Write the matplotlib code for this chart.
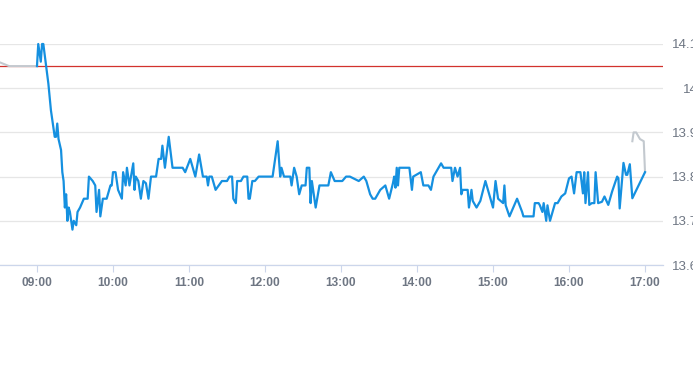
import pandas as pd
import matplotlib
matplotlib.use('Agg')
import matplotlib.pyplot as plt
import matplotlib.dates as mdates

# intraday price, regular session
times = ['09:00', '09:01', '09:03', '09:04', '09:05', '09:09', '09:11', '09:13', '09:14', '09:15',
         '09:16', '09:17', '09:19', '09:20', '09:21', '09:22', '09:23', '09:24', '09:25', '09:26',
         '09:27', '09:28', '09:29', '09:31', '09:32', '09:34', '09:37', '09:40', '09:41', '09:44',
         '09:46', '09:47', '09:49', '09:50', '09:52', '09:55', '09:58', '09:59', '10:00', '10:02',
         '10:04', '10:07', '10:08', '10:10', '10:11', '10:13', '10:16', '10:17', '10:18', '10:20',
         '10:22', '10:24', '10:26', '10:28', '10:30', '10:34', '10:36', '10:38', '10:39', '10:41',
         '10:44', '10:47', '10:55', '10:57', '11:01', '11:05', '11:08', '11:11', '11:14', '11:15',
         '11:16', '11:18', '11:21', '11:26', '11:30', '11:32', '11:34', '11:35', '11:37', '11:38',
         '11:41', '11:43', '11:46', '11:47', '11:48', '11:50', '11:52', '11:55', '12:06', '12:10',
         '12:12', '12:13', '12:15', '12:17', '12:20', '12:21', '12:23', '12:25', '12:27', '12:29',
         '12:32', '12:33', '12:35', '12:36', '12:37', '12:40', '12:43', '12:45', '12:50', '12:52',
         '12:55', '13:01', '13:04', '13:07', '13:14', '13:18', '13:20', '13:23', '13:25', '13:27',
         '13:31', '13:35', '13:38', '13:41', '13:42', '13:43', '13:44', '13:45', '13:46', '13:54',
         '13:56', '13:57', '14:03', '14:05', '14:09', '14:11', '14:13', '14:19', '14:21', '14:27',
         '14:28', '14:30', '14:32', '14:34', '14:35', '14:36', '14:38', '14:40', '14:41', '14:43',
         '14:44', '14:47', '14:50', '14:54', '15:00', '15:02', '15:04', '15:06', '15:08', '15:09',
         '15:10', '15:13', '15:19', '15:23', '15:24', '15:32', '15:33', '15:36', '15:37', '15:39',
         '15:40', '15:42', '15:43', '15:45', '15:49', '15:51', '15:54', '15:57', '16:00', '16:02',
         '16:04', '16:06', '16:09', '16:11', '16:12', '16:13', '16:15', '16:16', '16:18', '16:20',
         '16:21', '16:23', '16:26', '16:28', '16:31', '16:34', '16:38', '16:39', '16:40', '16:43',
         '16:45', '16:46', '16:48', '16:50', '17:00']
prices = [14.05, 14.10, 14.06, 14.10, 14.10, 14.01, 13.95, 13.91, 13.89, 13.89,
          13.92, 13.885, 13.86, 13.81, 13.79, 13.73, 13.76, 13.70, 13.73, 13.72,
          13.70, 13.68, 13.70, 13.69, 13.72, 13.73, 13.75, 13.75, 13.80, 13.79,
          13.78, 13.72, 13.77, 13.71, 13.75, 13.75, 13.78, 13.78, 13.81, 13.81,
          13.77, 13.75, 13.81, 13.78, 13.82, 13.78, 13.83, 13.77, 13.80, 13.79,
          13.75, 13.79, 13.785, 13.75, 13.80, 13.80, 13.84, 13.84, 13.87, 13.82,
          13.89, 13.82, 13.82, 13.81, 13.84, 13.80, 13.85, 13.80, 13.80, 13.78,
          13.80, 13.80, 13.77, 13.79, 13.79, 13.80, 13.80, 13.75, 13.74, 13.79,
          13.79, 13.80, 13.80, 13.75, 13.75, 13.79, 13.79, 13.80, 13.80, 13.88,
          13.80, 13.82, 13.80, 13.80, 13.80, 13.78, 13.82, 13.80, 13.76, 13.78,
          13.78, 13.82, 13.82, 13.74, 13.79, 13.73, 13.78, 13.78, 13.78, 13.81,
          13.79, 13.79, 13.80, 13.80, 13.79, 13.80, 13.79, 13.76, 13.75, 13.75,
          13.77, 13.78, 13.75, 13.785, 13.80, 13.775, 13.82, 13.78, 13.82, 13.82,
          13.77, 13.80, 13.81, 13.78, 13.78, 13.77, 13.80, 13.83, 13.82, 13.82,
          13.79, 13.82, 13.80, 13.82, 13.76, 13.77, 13.77, 13.77, 13.73, 13.77,
          13.745, 13.73, 13.745, 13.79, 13.73, 13.79, 13.75, 13.745, 13.74, 13.78,
          13.735, 13.71, 13.75, 13.72, 13.71, 13.71, 13.74, 13.74, 13.735, 13.72,
          13.74, 13.70, 13.735, 13.70, 13.74, 13.74, 13.755, 13.762, 13.796, 13.80,
          13.762, 13.81, 13.81, 13.762, 13.81, 13.74, 13.81, 13.736, 13.74, 13.74,
          13.81, 13.74, 13.743, 13.755, 13.736, 13.766, 13.80, 13.796, 13.728, 13.831,
          13.804, 13.804, 13.828, 13.751, 13.81]

# pre / post market (gray)
pre_times = ['08:25', '08:38', '09:00']
pre_prices = [14.065, 14.05, 14.05]
post_times = ['16:50', '16:51', '16:53', '16:54', '16:56', '16:59', '17:00']
post_prices = [13.88, 13.90, 13.90, 13.895, 13.885, 13.88, 13.81]

prev_close = 14.05
y_ticks = [13.6, 13.7, 13.8, 13.9, 14.0, 14.1]
y_labels = ['13.6', '13.7', '13.8', '13.9', '14', '14.1']


def to_dt(t):
    return pd.to_datetime(['2024-01-02 ' + s for s in t])


fig = plt.figure(figsize=(6.93, 3.65), dpi=100)
ax = fig.add_axes([0, 1 - 265 / 365, 663 / 693, 221 / 365])

ax.plot(to_dt(pre_times), pre_prices, color='#c3c9cf', lw=1.5, clip_on=False, zorder=3)
ax.plot(to_dt(post_times), post_prices, color='#c3c9cf', lw=1.5, clip_on=False, zorder=3)
ax.plot(to_dt(times), prices, color='#1590e0', lw=1.6, clip_on=False, zorder=4)
ax.axhline(prev_close, color='#d2322d', lw=0.9, zorder=2)

t0 = pd.Timestamp('2024-01-02 09:00')
ax.set_xlim(t0 - pd.Timedelta(minutes=29.2), t0 + pd.Timedelta(minutes=494.2))
ax.set_ylim(13.6, 14.1)

ax.xaxis.set_major_locator(mdates.HourLocator())
ax.xaxis.set_major_formatter(mdates.DateFormatter('%H:%M'))
ax.tick_params(axis='x', length=5, width=0.8, color='#ccd6eb', labelcolor='#6e7683',
               labelsize=8.6, pad=4)
for lab in ax.get_xticklabels():
    lab.set_fontfamily('Liberation Sans')
    lab.set_fontweight('bold')

ax.yaxis.tick_right()
ax.set_yticks(y_ticks)
ax.set_yticklabels(y_labels)
ax.tick_params(axis='y', length=0, pad=25, labelsize=9.6, labelcolor='#6e7683')
for lab in ax.get_yticklabels():
    lab.set_ha('right')
    lab.set_fontfamily('Liberation Sans')

ax.grid(axis='y', color='#e6e6e6', lw=0.9)
ax.set_axisbelow(True)
for s in ['top', 'left', 'right']:
    ax.spines[s].set_visible(False)
ax.spines['bottom'].set_color('#ccd6eb')
ax.spines['bottom'].set_linewidth(0.9)

fig.savefig('out.png', dpi=100)
